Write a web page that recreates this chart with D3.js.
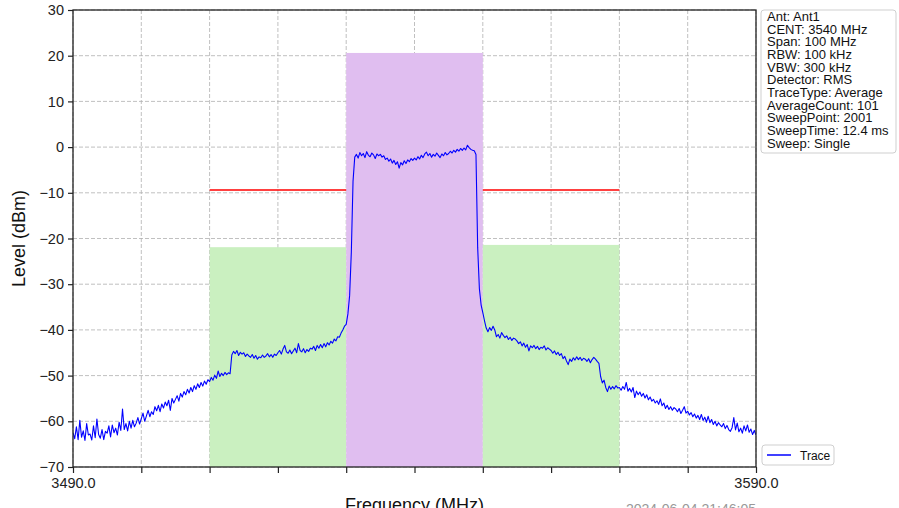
<!DOCTYPE html>
<html><head><meta charset="utf-8">
<script src="https://cdn.jsdelivr.net/npm/d3@7"></script>
<style>
body{margin:0;background:#fff}
svg{display:block}
text{font-family:"Liberation Sans",Arial,Helvetica,sans-serif}
</style>
</head><body>
<svg id="c" width="899" height="508"></svg>
<script>
// ---------- data ----------
const freqStart = 3490, freqStep = 0.25;
const traceLevels = [
-62.5,-63.8,-61.2,-64.0,-59.8,-63.5,-62.1,-64.2,-60.5,-63.0,-62.8,-64.1,-61.0,-63.6,-59.5,-62.9,-63.7,-61.8,-64.0,-62.2,
-62.6,-61.0,-63.4,-60.8,-62.5,-61.5,-63.0,-60.2,-62.0,-57.3,-61.8,-60.5,-62.1,-60.0,-61.5,-59.8,-61.2,-60.4,-59.2,-60.6,
-59.4,-58.2,-60.0,-58.8,-57.6,-59.0,-57.9,-58.5,-56.8,-57.7,-56.5,-57.9,-56.2,-57.1,-55.8,-56.6,-55.4,-57.6,-55.0,-56.0,
-55.2,-54.4,-55.6,-53.9,-54.7,-53.5,-54.2,-53.0,-53.8,-52.6,-53.5,-52.2,-53.0,-51.8,-52.6,-51.5,-52.3,-51.2,-51.9,-50.9,
-51.3,-50.4,-51.0,-49.9,-50.6,-49.0,-50.2,-49.5,-50.0,-49.3,-49.8,-49.4,-49.6,-45.5,-44.7,-45.2,-44.5,-45.6,-44.9,-45.3,
-45.0,-45.8,-45.3,-45.7,-46.0,-45.4,-46.2,-45.6,-46.4,-45.9,-46.1,-45.5,-46.0,-45.7,-45.2,-45.9,-45.4,-46.0,-45.3,-45.6,
-45.0,-44.5,-45.3,-44.2,-43.4,-44.8,-45.1,-44.4,-45.2,-44.6,-44.0,-45.0,-43.0,-44.5,-44.8,-44.1,-45.0,-44.3,-44.7,-44.0,
-44.2,-43.6,-44.5,-43.4,-44.0,-43.2,-43.9,-43.0,-43.7,-42.8,-43.3,-42.5,-42.9,-42.0,-42.4,-41.5,-41.6,-40.7,-40.0,-39.2,
-38.8,-36.5,-32.5,-23.0,-7.5,-2.2,-1.6,-2.4,-1.2,-1.9,-1.4,-2.3,-1.0,-1.8,-2.1,-1.3,-1.7,-2.5,-1.5,-1.9,
-1.6,-2.2,-1.9,-2.7,-2.4,-3.1,-2.6,-3.5,-2.9,-3.8,-3.2,-4.6,-3.4,-3.9,-3.0,-3.6,-2.8,-3.2,-2.5,-2.9,
-2.4,-2.8,-2.1,-2.6,-1.8,-2.3,-1.5,-1.1,-1.9,-1.4,-2.2,-1.6,-2.0,-1.3,-1.8,-2.3,-1.5,-1.9,-1.2,-1.7,
-1.4,-0.9,-1.3,-0.7,-1.1,-0.5,-0.9,-0.3,-0.7,-0.2,-0.6,0.4,-0.1,-0.5,-0.7,-0.8,-1.6,-22.0,-31.0,-34.5,
-36.2,-38.0,-39.6,-40.4,-39.5,-40.1,-39.2,-40.0,-41.5,-41.0,-41.8,-40.6,-41.2,-41.7,-41.3,-42.1,-41.6,-42.3,-41.8,-42.0,
-42.4,-43.0,-42.6,-43.5,-42.9,-43.8,-43.2,-44.6,-43.5,-43.9,-43.4,-44.1,-43.6,-44.3,-43.8,-44.0,-43.5,-44.4,-43.9,-44.2,
-44.5,-45.1,-44.6,-45.4,-44.9,-45.6,-45.2,-46.3,-45.8,-46.8,-47.6,-46.4,-46.9,-46.1,-46.6,-45.9,-46.5,-46.0,-46.7,-46.2,
-46.4,-46.9,-46.3,-47.2,-46.5,-46.0,-46.4,-46.9,-47.3,-50.2,-51.6,-51.0,-52.6,-53.5,-52.3,-53.0,-52.4,-52.9,-52.2,-52.7,
-52.6,-53.2,-52.4,-53.0,-51.5,-53.4,-52.8,-53.6,-52.6,-54.8,-53.4,-54.2,-53.6,-54.5,-53.9,-54.9,-54.2,-55.3,-54.7,-55.6,
-55.2,-56.0,-55.5,-56.3,-55.1,-56.6,-56.0,-57.2,-56.5,-57.4,-56.8,-57.6,-57.0,-57.3,-57.9,-57.2,-58.3,-57.6,-56.8,-58.2,
-57.8,-58.6,-58.1,-59.0,-58.4,-59.3,-58.7,-59.6,-58.5,-59.8,-59.1,-60.2,-58.9,-60.3,-59.6,-60.7,-60.0,-61.0,-60.3,-60.8,
-61.2,-60.5,-61.6,-60.9,-61.8,-62.2,-61.4,-59.2,-61.9,-60.4,-62.3,-61.5,-62.6,-61.0,-62.1,-60.8,-62.4,-61.7,-62.9,-62.0,
-63.0
];
const xDomain = [3490, 3590];
const yDomain = [-70, 30];
const xTicks = [3490,3500,3510,3520,3530,3540,3550,3560,3570,3580,3590];
const xTickLabels = ["3490.0","","","","","","","","","","3590.0"];
const yTicks = [-70,-60,-50,-40,-30,-20,-10,0,10,20,30];
const bandStarts = [3510, 3530, 3550];
const bandEnds   = [3530, 3550, 3570];
const bandLevels = [-21.9, 20.6, -21.4];
const limitStart = 3510, limitEnd = 3570, limitLevel = -9.4;
const infoLines = ["Ant: Ant1","CENT: 3540 MHz","Span: 100 MHz","RBW: 100 kHz","VBW: 300 kHz",
  "Detector: RMS","TraceType: Average","AverageCount: 101","SweepPoint: 2001","SweepTime: 12.4 ms","Sweep: Single"];
const seriesName = "Trace";
const xTitle = "Frequency (MHz)", yTitle = "Level (dBm)";
const timestamp = "2024-06-04 21:46:05";

// ---------- styles ----------
const bandColors = ["#caf0c0", "#e0bef0", "#caf0c0"];
const L = 73, R = 756, T = 10, B = 467;

const svg = d3.select("#c");
const x = d3.scaleLinear().domain(xDomain).range([L, R]);
const y = d3.scaleLinear().domain(yDomain).range([B, T]);

// grid
const grid = svg.append("g").attr("stroke", "#b0b0b0").attr("stroke-width", 0.8).attr("stroke-dasharray", "4,2");
grid.selectAll("line.h").data(yTicks).join("line").attr("class","h")
  .attr("x1", L).attr("x2", R).attr("y1", d => y(d)).attr("y2", d => y(d));
grid.selectAll("line.v").data(xTicks).join("line").attr("class","v")
  .attr("y1", T).attr("y2", B).attr("x1", d => x(d)).attr("x2", d => x(d));

// limit line
svg.append("line").attr("x1", x(limitStart)).attr("x2", x(limitEnd))
  .attr("y1", y(limitLevel)).attr("y2", y(limitLevel))
  .attr("stroke", "#ff0000").attr("stroke-width", 1.5);

// bands
svg.selectAll("rect.band").data(bandStarts).join("rect").attr("class","band")
  .attr("x", (d,i) => x(d)).attr("width", (d,i) => x(bandEnds[i]) - x(d))
  .attr("y", (d,i) => y(bandLevels[i])).attr("height", (d,i) => y(yDomain[0]) - y(bandLevels[i]))
  .attr("fill", (d,i) => bandColors[i]);

// trace
svg.append("clipPath").attr("id","clip").append("rect").attr("x",L).attr("y",T).attr("width",R-L).attr("height",B-T);
const line = d3.line().x((d,i) => x(freqStart + i*freqStep)).y(d => y(d));
svg.append("path").datum(traceLevels).attr("d", line).attr("fill","none")
  .attr("stroke","#0000ff").attr("stroke-width",1.1).attr("stroke-linejoin","round")
  .attr("clip-path","url(#clip)");

// axes
const fmt = d3.format("d");
const yAxis = svg.append("g").attr("transform",`translate(${L},0)`)
  .call(d3.axisLeft(y).tickValues(yTicks).tickFormat(fmt).tickSize(5).tickPadding(4));
const xAxis = svg.append("g").attr("transform",`translate(0,${B})`)
  .call(d3.axisBottom(x).tickValues(xTicks).tickFormat((d,i) => xTickLabels[i]).tickSize(6).tickPadding(5));
[yAxis, xAxis].forEach(g => {
  g.select(".domain").remove();
  g.selectAll(".tick line").attr("stroke","#222").attr("stroke-width",1.2);
  g.selectAll("text").attr("font-size","14.5px").attr("fill","#222")
    .attr("font-family",'"Liberation Sans",Arial,sans-serif');
});

// frame
svg.append("rect").attr("x",L).attr("y",T).attr("width",R-L).attr("height",B-T)
  .attr("fill","none").attr("stroke","#222").attr("stroke-width",1.3);

// titles
svg.append("text").attr("transform",`translate(25,${(T+B)/2}) rotate(-90)`)
  .attr("text-anchor","middle").attr("font-size","18px").attr("fill","#111").text(yTitle);
svg.append("text").attr("x",(L+R)/2).attr("y",511)
  .attr("text-anchor","middle").attr("font-size","18px").attr("fill","#111").text(xTitle);
svg.append("text").attr("x",R).attr("y",514).attr("text-anchor","end")
  .attr("font-size","14px").attr("fill","#999").text(timestamp);

// info box
svg.append("rect").attr("x",761).attr("y",10).attr("width",135).attr("height",143).attr("rx",3)
  .attr("fill","#fff").attr("stroke","#cfcfcf").attr("stroke-width",1);
svg.append("g").selectAll("text").data(infoLines).join("text")
  .attr("x",767).attr("y",(d,i) => 21 + i*12.65)
  .attr("font-size","13px").attr("fill","#111").text(d => d);

// legend
svg.append("rect").attr("x",762).attr("y",445).attr("width",72).attr("height",20).attr("rx",3)
  .attr("fill","#fff").attr("stroke","#cfcfcf").attr("stroke-width",1);
svg.append("line").attr("x1",767).attr("x2",791).attr("y1",455).attr("y2",455)
  .attr("stroke","#0000ff").attr("stroke-width",1.5);
svg.append("text").attr("x",800).attr("y",459.5).attr("font-size","12px").attr("fill","#111").text(seriesName);
</script>
</body></html>
